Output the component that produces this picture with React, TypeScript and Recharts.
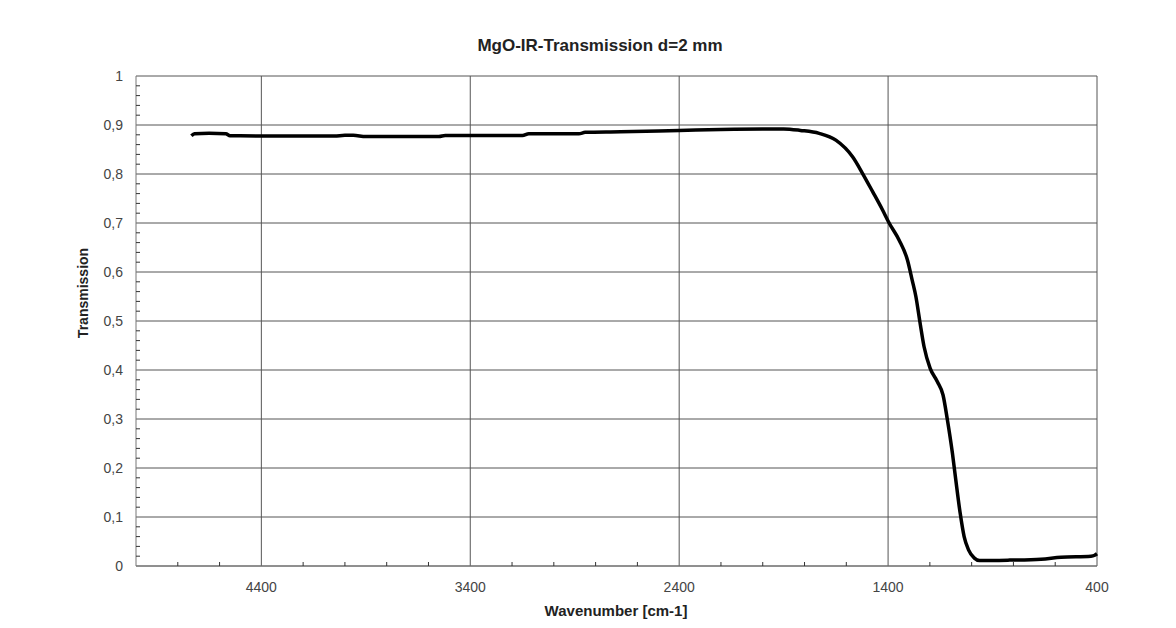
import { CartesianGrid, Line, LineChart, XAxis, YAxis } from "recharts";

const wavenumber = [
  4735, 4720, 4650, 4570, 4550, 4300, 4050, 4000, 3960, 3900, 3550, 3520, 3150, 3120, 2880, 2850, 2680, 2400, 2200,
  2000, 1900, 1820, 1730, 1650, 1570, 1522, 1474, 1427, 1395, 1347, 1307, 1285, 1267, 1248, 1228, 1199, 1164, 1137,
  1116, 1092, 1076, 1055, 1036, 1015, 987, 962, 818, 668, 572, 429, 411, 400,
];
const transmission = [
  0.878, 0.882, 0.883, 0.882, 0.878, 0.8775, 0.8775, 0.879, 0.879, 0.8765, 0.8765, 0.8785, 0.8785, 0.882, 0.882, 0.885,
  0.886, 0.889, 0.891, 0.892, 0.892, 0.889, 0.883, 0.869, 0.835, 0.801, 0.764, 0.727, 0.7, 0.665, 0.624, 0.584, 0.55,
  0.499, 0.448, 0.404, 0.376, 0.349, 0.298, 0.23, 0.176, 0.108, 0.06, 0.033, 0.016, 0.011, 0.012, 0.014, 0.018, 0.02,
  0.022, 0.025,
];

// labelled ticks (with grid lines) and the small inner tick marks
const xTicks = [4400, 3400, 2400, 1400, 400];
const xAllTicks = [
  4800, 4600, 4400, 4200, 4000, 3800, 3600, 3400, 3200, 3000, 2800, 2600, 2400, 2200, 2000, 1800, 1600, 1400, 1200,
  1000, 800, 600, 400,
];
const yTicks = [0, 0.1, 0.2, 0.3, 0.4, 0.5, 0.6, 0.7, 0.8, 0.9, 1];
const yAllTicks = [
  0, 0.02, 0.04, 0.06, 0.08, 0.1, 0.12, 0.14, 0.16, 0.18, 0.2, 0.22, 0.24, 0.26, 0.28, 0.3, 0.32, 0.34, 0.36, 0.38, 0.4,
  0.42, 0.44, 0.46, 0.48, 0.5, 0.52, 0.54, 0.56, 0.58, 0.6, 0.62, 0.64, 0.66, 0.68, 0.7, 0.72, 0.74, 0.76, 0.78, 0.8,
  0.82, 0.84, 0.86, 0.88, 0.9, 0.92, 0.94, 0.96, 0.98, 1,
];

const data = wavenumber.map((w, i) => ({ w, t: transmission[i] }));
const font = '"Liberation Sans", Arial, sans-serif';

const XTick = (props: any) => {
  const { x, y, payload } = props;
  const major = xTicks.includes(payload.value);
  return (
    <g>
      {!major && <line x1={x} x2={x} y1={y} y2={y - 4} stroke="#333" />}
      {major && (
        <text x={x} y={y + 26} textAnchor="middle" fill="#444" fontSize={14} fontFamily={font}>
          {payload.value}
        </text>
      )}
    </g>
  );
};

const YTick = (props: any) => {
  const { x, y, payload } = props;
  const v = payload.value;
  const major = yTicks.some((t) => Math.abs(t - v) < 1e-6);
  return (
    <g>
      {!major && <line x1={x} x2={x + 4} y1={y} y2={y} stroke="#333" />}
      {major && (
        <text x={x - 13} y={y + 5} textAnchor="end" fill="#444" fontSize={14} fontFamily={font}>
          {String(v).replace(".", ",")}
        </text>
      )}
    </g>
  );
};

export default function App() {
  return (
    <div style={{ position: "absolute", left: 0, top: 0, width: 1176, height: 628, background: "#fff", fontFamily: font }}>
      <div
        style={{ position: "absolute", left: 0, width: 1200, top: 36, textAlign: "center", fontSize: 17, fontWeight: "bold", color: "#222" }}
      >
        MgO-IR-Transmission d=2 mm
      </div>
      <div
        style={{
          position: "absolute",
          left: 83,
          top: 293,
          transform: "translate(-50%, -50%) rotate(-90deg)",
          fontSize: 14,
          fontWeight: "bold",
          color: "#222",
          whiteSpace: "nowrap",
        }}
      >
        Transmission
      </div>
      <div
        style={{
          position: "absolute",
          left: 616,
          top: 610,
          transform: "translate(-50%, -50%)",
          fontSize: 15,
          fontWeight: "bold",
          color: "#222",
          whiteSpace: "nowrap",
        }}
      >
        Wavenumber [cm-1]
      </div>
      <LineChart width={1176} height={628} data={data} margin={{ top: 76, right: 79, bottom: 0, left: 76 }}>
        <CartesianGrid stroke="#555" strokeWidth={1} verticalValues={xTicks} horizontalValues={yTicks} />
        <XAxis
          dataKey="w"
          type="number"
          domain={[400, 5000]}
          reversed
          ticks={xAllTicks}
          interval={0}
          height={62}
          tickLine={false}
          tickSize={0}
          tickMargin={0}
          axisLine={{ stroke: "#777" }}
          tick={<XTick />}
        />
        <YAxis
          type="number"
          domain={[0, 1]}
          ticks={yAllTicks}
          interval={0}
          width={60}
          tickLine={false}
          tickSize={0}
          tickMargin={0}
          axisLine={{ stroke: "#777" }}
          tick={<YTick />}
        />
        <Line
          dataKey="t"
          type="monotone"
          stroke="#000"
          strokeWidth={3.5}
          dot={false}
          isAnimationActive={false}
        />
      </LineChart>
    </div>
  );
}
